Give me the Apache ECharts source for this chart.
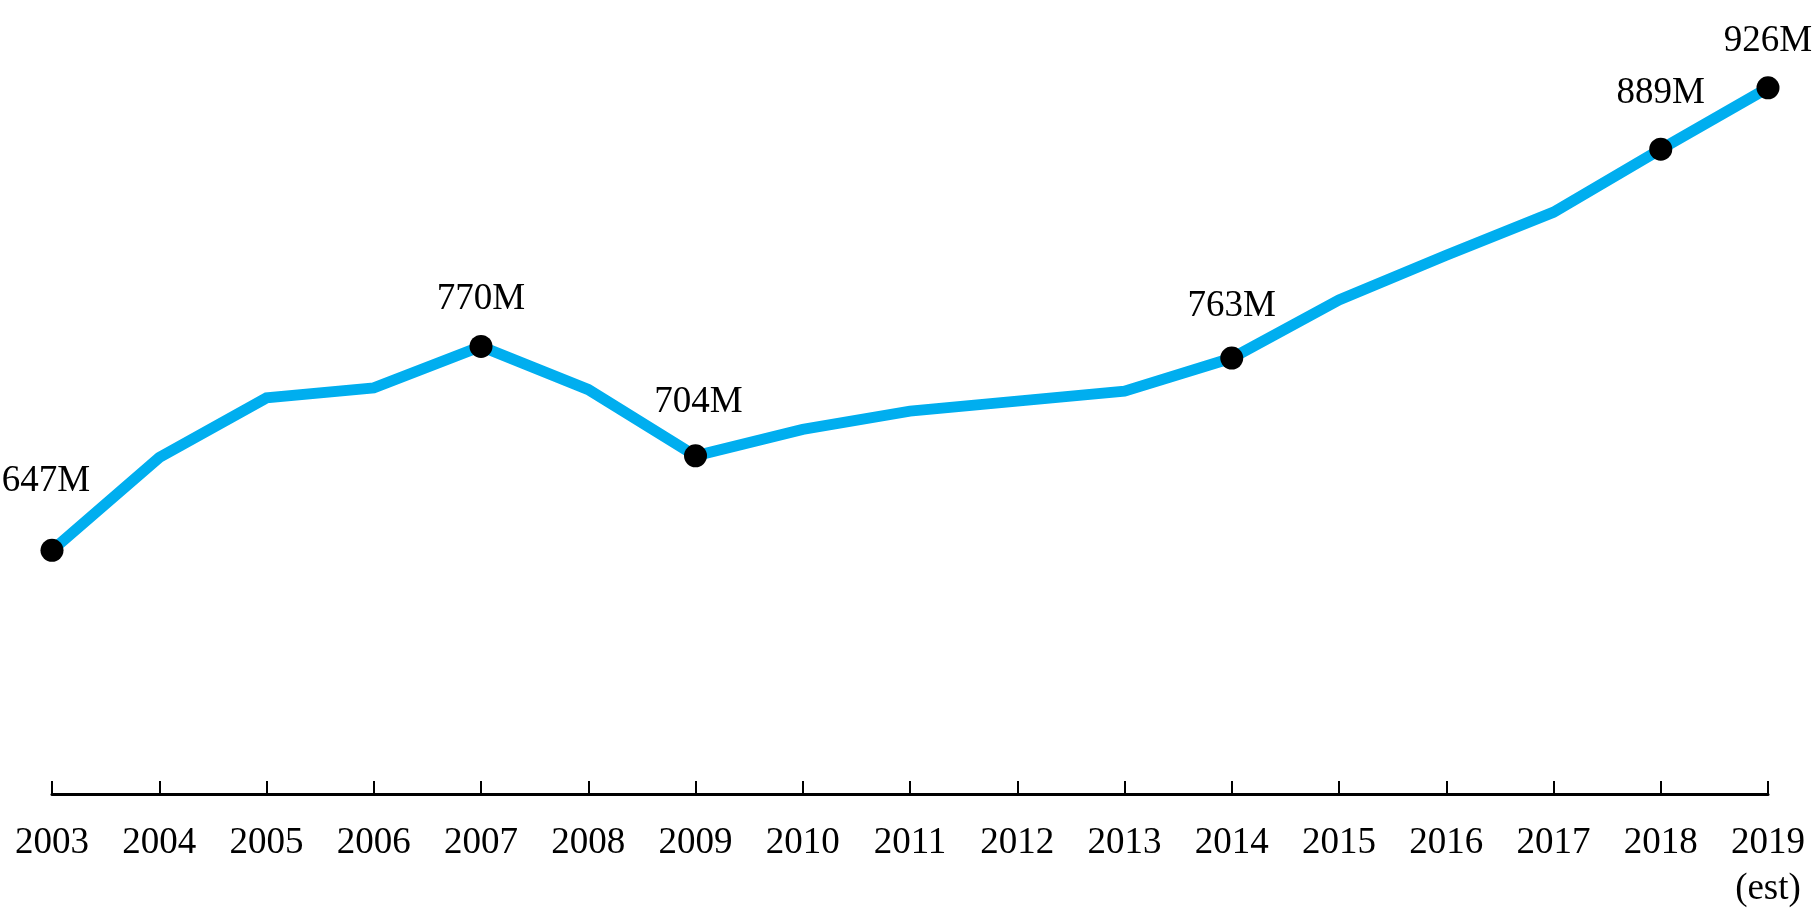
<!DOCTYPE html>
<html>
<head>
<meta charset="utf-8">
<script src="https://cdn.jsdelivr.net/npm/echarts@6/dist/echarts.min.js"></script>
<style>
html,body{margin:0;padding:0;background:#fff;}
#chart{width:1812px;height:912px;}
</style>
</head>
<body>
<div id="chart"></div>
<script>
var years = ['2003','2004','2005','2006','2007','2008','2009','2010','2011','2012','2013','2014','2015','2016','2017','2018','2019\n(est)'];
var values = [647, 703, 739, 745, 770, 744, 704, 720, 731, 737, 743, 763, 798, 825, 851, 889, 926];
var labeledIdx = [0, 4, 6, 11, 15, 16];
var labelDist = [39, 17, 24, 22, 26, 17];
var labelShiftX = [-6, 0, 3, 0, 0, 0];

var chart = echarts.init(document.getElementById('chart'));
var markData = labeledIdx.map(function (i, k) {
  return {
    value: [i, values[i]],
    label: { distance: labelDist[k], offset: [labelShiftX[k], 0] }
  };
});
chart.setOption({
  animation: false,
  grid: { left: 52, right: 44, top: 0, bottom: 114, containLabel: false },
  xAxis: {
    type: 'category',
    data: years,
    boundaryGap: false,
    axisLine: { lineStyle: { color: '#000', width: 3 } },
    axisTick: { inside: true, length: 13, lineStyle: { color: '#000', width: 2 }, alignWithLabel: true },
    axisLabel: {
      color: '#000', fontFamily: 'Liberation Serif', fontSize: 37,
      lineHeight: 46, margin: 26, interval: 0, align: 'center'
    },
    splitLine: { show: false }
  },
  yAxis: {
    type: 'value', min: 500, max: 979,
    show: false
  },
  series: [
    {
      type: 'line',
      data: values,
      showSymbol: false,
      symbol: 'none',
      lineStyle: { color: '#00AEEF', width: 11, join: 'miter' },
      z: 2
    },
    {
      type: 'scatter',
      data: markData,
      symbolSize: 23,
      itemStyle: { color: '#000', opacity: 1 },
      label: {
        show: true, position: 'top', color: '#000', opacity: 1,
        fontFamily: 'Liberation Serif', fontSize: 37,
        formatter: function (p) { return p.value[1] + 'M'; }
      },
      z: 3
    }
  ]
});
</script>
</body>
</html>
